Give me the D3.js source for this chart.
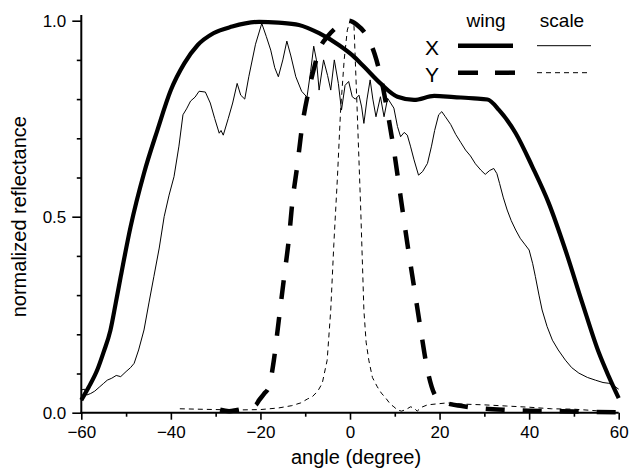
<!DOCTYPE html>
<html>
<head>
<meta charset="utf-8">
<script src="https://cdn.jsdelivr.net/npm/d3@7"></script>
<style>
  body { margin: 0; background: #fff; }
  svg text { font-family: "Liberation Sans", Arial, sans-serif; fill: #000; }
</style>
</head>
<body>
<div id="chart"></div>
<script>
// dati: [angolo, riflettanza normalizzata]
var wingX = [[-60,0.032],[-58.3,0.066],[-56.4,0.11],[-55,0.155],[-53.5,0.21],[-52.3,0.28],[-51.2,0.347],[-49,0.474],[-46,0.611],[-43,0.721],[-40,0.823],[-37,0.891],[-34,0.938],[-30.5,0.968],[-26.3,0.985],[-20.3,0.997],[-16,0.995],[-11.4,0.989],[-6.9,0.968],[-2.5,0.938],[0.5,0.912],[3.1,0.883],[6.8,0.84],[10.6,0.806],[14.3,0.798],[18.8,0.808],[23.2,0.805],[27.7,0.802],[30.7,0.799],[33.3,0.772],[37,0.713],[40.7,0.628],[44.4,0.534],[48.1,0.415],[51.9,0.279],[55.6,0.152],[57.8,0.092],[60,0.037]];

var scaleX = [[-60,0.058],[-59.3,0.06],[-58.8,0.045],[-57.9,0.049],[-57,0.055],[-56,0.065],[-55,0.075],[-54.2,0.083],[-53.2,0.088],[-52.2,0.095],[-51.2,0.092],[-50,0.105],[-49,0.115],[-48.2,0.126],[-47.2,0.16],[-46,0.211],[-44.9,0.28],[-43.8,0.347],[-42.6,0.42],[-41.5,0.5],[-40.4,0.555],[-39.3,0.602],[-38.2,0.68],[-37.3,0.76],[-36.5,0.775],[-35.6,0.795],[-34.6,0.805],[-33.7,0.82],[-32.3,0.818],[-31.2,0.79],[-30.2,0.75],[-29.2,0.713],[-28.8,0.72],[-28.3,0.708],[-27.2,0.75],[-26.2,0.79],[-25.2,0.84],[-24.4,0.81],[-23.5,0.8],[-22.6,0.857],[-21.1,0.94],[-19.7,0.993],[-18.7,0.96],[-17.7,0.925],[-16.8,0.88],[-16,0.857],[-15,0.9],[-14.1,0.948],[-13.2,0.91],[-12.1,0.857],[-10.8,0.82],[-9.6,0.805],[-8.8,0.87],[-8.1,0.935],[-7.5,0.9],[-6.9,0.823],[-5.9,0.9],[-5,0.86],[-4.3,0.823],[-3.5,0.9],[-2.6,0.84],[-1.9,0.772],[-1.1,0.835],[-0.3,0.845],[0.5,0.806],[1.2,0.8],[2,0.81],[2.6,0.78],[3.1,0.738],[3.8,0.8],[4.5,0.849],[5.1,0.8],[5.8,0.755],[6.8,0.806],[7.6,0.755],[8.4,0.802],[9.8,0.777],[10.6,0.73],[11.3,0.704],[12.1,0.715],[12.8,0.708],[13.5,0.68],[14.3,0.645],[15.3,0.606],[16.2,0.615],[17.3,0.636],[18.2,0.68],[18.9,0.72],[19.8,0.76],[20.5,0.768],[21.3,0.755],[22.5,0.735],[23.6,0.71],[24.7,0.69],[25.8,0.67],[26.9,0.655],[28,0.635],[29.2,0.619],[30.2,0.608],[31.2,0.618],[32.1,0.623],[32.8,0.61],[33.4,0.585],[34.2,0.55],[35.1,0.517],[36,0.49],[37,0.466],[38,0.445],[39,0.43],[40,0.415],[40.8,0.38],[41.4,0.347],[42.2,0.3],[42.9,0.262],[44,0.22],[45.2,0.185],[46.5,0.16],[48.1,0.134],[49.5,0.115],[51.1,0.101],[53,0.09],[54.8,0.083],[56.5,0.077],[57.8,0.075],[59,0.068],[60,0.06]];

var wingY = [[-29,0.008],[-27,0.004],[-25.5,0.006],[-24,0.009],[-22.5,0.012],[-21,0.02],[-20.3,0.032],[-19.2,0.048],[-18.1,0.066],[-17,0.134],[-15.9,0.236],[-14.7,0.347],[-13.6,0.449],[-12.9,0.534],[-11.8,0.628],[-10.7,0.73],[-9.2,0.823],[-8,0.88],[-6.9,0.925],[-5,0.96],[-3.2,0.981],[-1.5,0.995],[-0.3,1.0],[1.5,0.99],[3.9,0.958],[5.5,0.915],[6.8,0.86],[8.3,0.772],[9.8,0.67],[11.3,0.551],[12.8,0.432],[14.3,0.321],[15.8,0.211],[17.3,0.109],[18.8,0.049],[20,0.033],[21.7,0.024],[25,0.017],[29.2,0.011],[35,0.007],[40,0.005],[45,0.004],[50,0.003],[55,0.002],[60,0.001]];

var scaleY = [[-38,0.01],[-34,0.009],[-30,0.008],[-25,0.007],[-20,0.008],[-16,0.012],[-13,0.018],[-11,0.025],[-9.5,0.035],[-8.4,0.041],[-7.2,0.055],[-6.2,0.075],[-5.1,0.134],[-4.3,0.262],[-3.6,0.432],[-2.8,0.602],[-2.1,0.772],[-1.3,0.9],[-0.6,0.976],[0,1.0],[0.5,0.995],[0.9,0.985],[1.6,0.772],[2.4,0.517],[3.1,0.262],[3.6,0.18],[4.2,0.134],[5,0.09],[6.1,0.066],[7,0.05],[8,0.037],[9,0.022],[9.8,0.015],[10.6,0.007],[11.5,0.004],[12.5,0.008],[13.5,0.015],[14.3,0.012],[15,0.004],[16,0.014],[17.3,0.02],[19,0.022],[21.7,0.025],[25,0.022],[30,0.02],[35,0.017],[40,0.014],[45,0.01],[50,0.009],[55,0.005],[58,0.002]];

var xTicks = [-60,-40,-20,0,20,40,60];
var xMinor = [-50,-30,-10,10,30,50];
var yTicks = [0,0.5,1];
var yMinor = [0.1,0.2,0.3,0.4,0.6,0.7,0.8,0.9];

var larghezza = 632, altezza = 473;

var x = d3.scaleLinear().domain([-60,60]).range([81.3,618.7]);
var y = d3.scaleLinear().domain([0,1]).range([412.7,20.7]);

var svg = d3.select("#chart").append("svg")
  .attr("width", larghezza).attr("height", altezza);

// assi
var assex = svg.append("g").attr("transform","translate(0,412.7)");
assex.call(d3.axisBottom(x).tickValues(xTicks).tickSize(7).tickPadding(6).tickFormat(d3.format("d")));
assex.append("g").call(d3.axisBottom(x).tickValues(xMinor).tickSize(4).tickFormat(""));

var assey = svg.append("g").attr("transform","translate(81.3,0)");
assey.call(d3.axisLeft(y).tickValues(yTicks).tickSize(9).tickPadding(6).tickFormat(d3.format(".1f")));
assey.append("g").call(d3.axisLeft(y).tickValues(yMinor).tickSize(4.5).tickFormat(""));

svg.selectAll(".domain").remove();
svg.selectAll(".tick line").attr("stroke","#000").attr("stroke-width",1.6);
svg.selectAll(".tick text").style("font-size","17px").attr("fill","#000")
  .style("font-family","'Liberation Sans', Arial, sans-serif");

svg.append("line").attr("x1",81.3).attr("x2",81.3).attr("y1",15).attr("y2",413.5)
  .attr("stroke","#000").attr("stroke-width",2);
svg.append("line").attr("x1",80.5).attr("x2",618.7).attr("y1",412.7).attr("y2",412.7)
  .attr("stroke","#000").attr("stroke-width",2);

// titoli
svg.append("text").attr("x",356).attr("y",464).attr("text-anchor","middle")
  .style("font-size","20px").text("angle (degree)");
svg.append("text").attr("transform","translate(26,216.7) rotate(-90)").attr("text-anchor","middle")
  .style("font-size","20px").text("normalized reflectance");

// curve
var linea = d3.line().x(function(d){ return x(d[0]); }).y(function(d){ return y(d[1]); });
var lineaMorbida = d3.line().curve(d3.curveMonotoneX)
  .x(function(d){ return x(d[0]); }).y(function(d){ return y(d[1]); });

var serie = [
  {dati: scaleY, gen: linea, w: 1, dash: "5,4"},
  {dati: scaleX, gen: linea, w: 1, dash: null},
  {dati: wingY, gen: lineaMorbida, w: 4.5, dash: "19,18"},
  {dati: wingX, gen: lineaMorbida, w: 4.2, dash: null}
];
serie.forEach(function(s){
  svg.append("path").attr("d", s.gen(s.dati))
    .attr("fill","none").attr("stroke","#000")
    .attr("stroke-width", s.w)
    .attr("stroke-dasharray", s.dash)
    .attr("stroke-linejoin","round");
});

// legenda
svg.append("text").attr("x",486).attr("y",27).attr("text-anchor","middle").style("font-size","19px").text("wing");
svg.append("text").attr("x",562).attr("y",27).attr("text-anchor","middle").style("font-size","19px").text("scale");
svg.append("text").attr("x",425).attr("y",55).style("font-size","21px").text("X");
svg.append("text").attr("x",425).attr("y",81.5).style("font-size","21px").text("Y");

var legenda = [
  {y: 45.7, x1: 458, x2: 513, w: 4.5, dash: null},
  {y: 45.7, x1: 537, x2: 591, w: 1, dash: null},
  {y: 72.7, x1: 458, x2: 515, w: 4.5, dash: "20,17"},
  {y: 72.7, x1: 537, x2: 591, w: 1, dash: "5,4"}
];
legenda.forEach(function(l){
  svg.append("line").attr("x1",l.x1).attr("x2",l.x2).attr("y1",l.y).attr("y2",l.y)
    .attr("stroke","#000").attr("stroke-width",l.w).attr("stroke-dasharray",l.dash);
});
</script>
</body>
</html>
